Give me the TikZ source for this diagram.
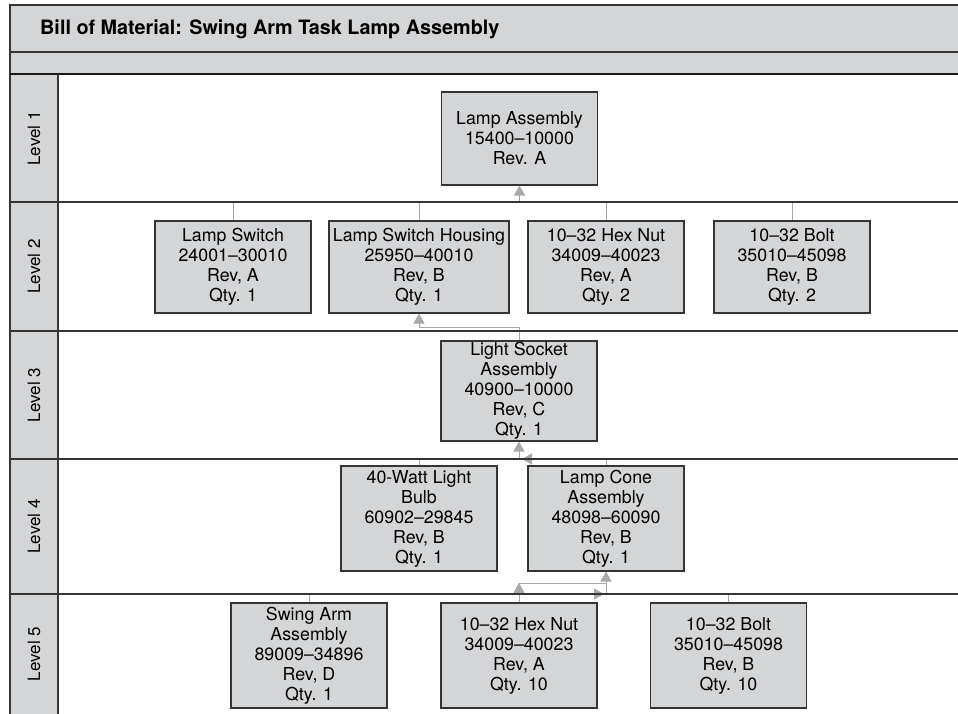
\documentclass[tikz,border=0pt]{standalone}
\usepackage{fontspec}
\setmainfont{TeX Gyre Heros}
\usetikzlibrary{arrows.meta}
\definecolor{boxgray}{RGB}{212,213,215}
\definecolor{linegray}{RGB}{168,168,168}
\definecolor{framegray}{RGB}{52,52,52}
\tikzset{
  part/.style={draw=framegray,line width=1.1pt,fill=boxgray,align=center,inner sep=0pt,
    minimum width=156pt,font=\fontsize{17.8}{20}\selectfont},
  link/.style={draw=linegray,line width=1pt},
  uparrow/.style={link,-{Triangle[width=11pt,length=10pt]}},
  lane/.style={draw=framegray,line width=1.3pt}
}
\begin{document}
\begin{tikzpicture}[x=1pt,y=-1pt,line join=miter]
\useasboundingbox (0,0) rectangle (958,714);
% header and level column
\fill[boxgray] (10,5) rectangle (958,74);
\fill[boxgray] (10,74) rectangle (58,714);
\node[anchor=base west,inner sep=0pt,font=\bfseries\fontsize{19.8}{22}\selectfont] (title) at (40,35)
  {Bill of Material: Swing Arm Task Lamp Assembly};
\foreach \ya/\yb/\n in {75/202/1,202/331/2,331/459/3,459/594/4,594/714/5}
  \node[rotate=90,font=\fontsize{17}{20}\selectfont] (lvl\n) at (34,{(\ya+\yb)/2}) {Level \n};
\coordinate (l2) at (0,202);
\coordinate (l3) at (0,331);
\coordinate (l4) at (0,459);
\coordinate (l5) at (0,594);
\coordinate (j3) at (0,327);
\coordinate (j5) at (0,583);
% level 1
\node[part,minimum height=93pt] (lamp) at (519.5,138.5) {Lamp Assembly\\15400--10000\\Rev. A};
% level 2
\node[part,minimum height=92pt] (switch) at (233,267) {Lamp Switch\\24001--30010\\Rev, A\\Qty. 1};
\node[part,minimum width=180pt,minimum height=92pt] (housing) at (419,267) {Lamp Switch Housing\\25950--40010\\Rev, B\\Qty. 1};
\node[part,minimum height=92pt] (nut2) at (606,267) {10--32 Hex Nut\\34009--40023\\Rev, A\\Qty. 2};
\node[part,minimum height=92pt] (bolt2) at (792,267) {10--32 Bolt\\35010--45098\\Rev, B\\Qty. 2};
% level 3
\node[part,minimum height=100pt] (socket) at (519,391) {Light Socket\\Assembly\\40900--10000\\Rev, C\\Qty. 1};
% level 4
\node[part,minimum height=105pt] (bulb) at (419,518.5) {40-Watt Light\\Bulb\\60902--29845\\Rev, B\\Qty. 1};
\node[part,minimum height=105pt] (cone) at (606,518.5) {Lamp Cone\\Assembly\\48098--60090\\Rev, B\\Qty. 1};
% level 5
\node[part,minimum height=105pt] (swing) at (309,655.5) {Swing Arm\\Assembly\\89009--34896\\Rev, D\\Qty. 1};
\node[part,minimum height=105pt] (nut5) at (519,655.5) {10--32 Hex Nut\\34009--40023\\Rev, A\\Qty. 10};
\node[part,minimum height=105pt] (bolt5) at (728.5,655.5) {10--32 Bolt\\35010--45098\\Rev, B\\Qty. 10};
% connectors
\foreach \p in {switch,housing,nut2,bolt2}
  \draw[link] (\p.north) -- (\p.north |- l2);
\draw[uparrow] (lamp.south |- l2) -- (lamp.south);
\draw[uparrow] (socket.north) -- (socket.north |- j3) -- (housing.south |- j3) -- (housing.south);
\draw[link] (bulb.north) -- (bulb.north |- l4) -- (socket.south |- l4);
\draw[uparrow] (socket.south |- l4) -- (socket.south);
\draw[link,-{Triangle[width=11pt,length=10pt]}] (cone.north) -- (cone.north |- l4) -- ([xshift=3pt]socket.south |- l4);
\draw[link,-{Triangle[width=11pt,length=10pt]}] (swing.north) -- (swing.north |- l5) -- ([xshift=-2pt]cone.south |- l5);
\draw[link] (bolt5.north) -- (bolt5.north |- l5) -- (cone.south |- l5);
\draw[uparrow] (cone.south |- l5) -- (cone.south);
\draw[uparrow] (nut5.north) -- (nut5.north |- j5);
\draw[link] (nut5.north |- j5) -- (cone.south |- j5);
% frame and lane lines
\draw[lane] (958,5) -- (10,5) -- (10,714);
\draw[lane] (10,52) -- (958,52);
\draw[draw=black!90,line width=2.4pt] (10,74) -- (958,74);
\draw[lane] (58,74) -- (58,714);
\foreach \y in {202,331,459,594}
  \draw[lane] (10,\y) -- (958,\y);
\end{tikzpicture}
\end{document}
